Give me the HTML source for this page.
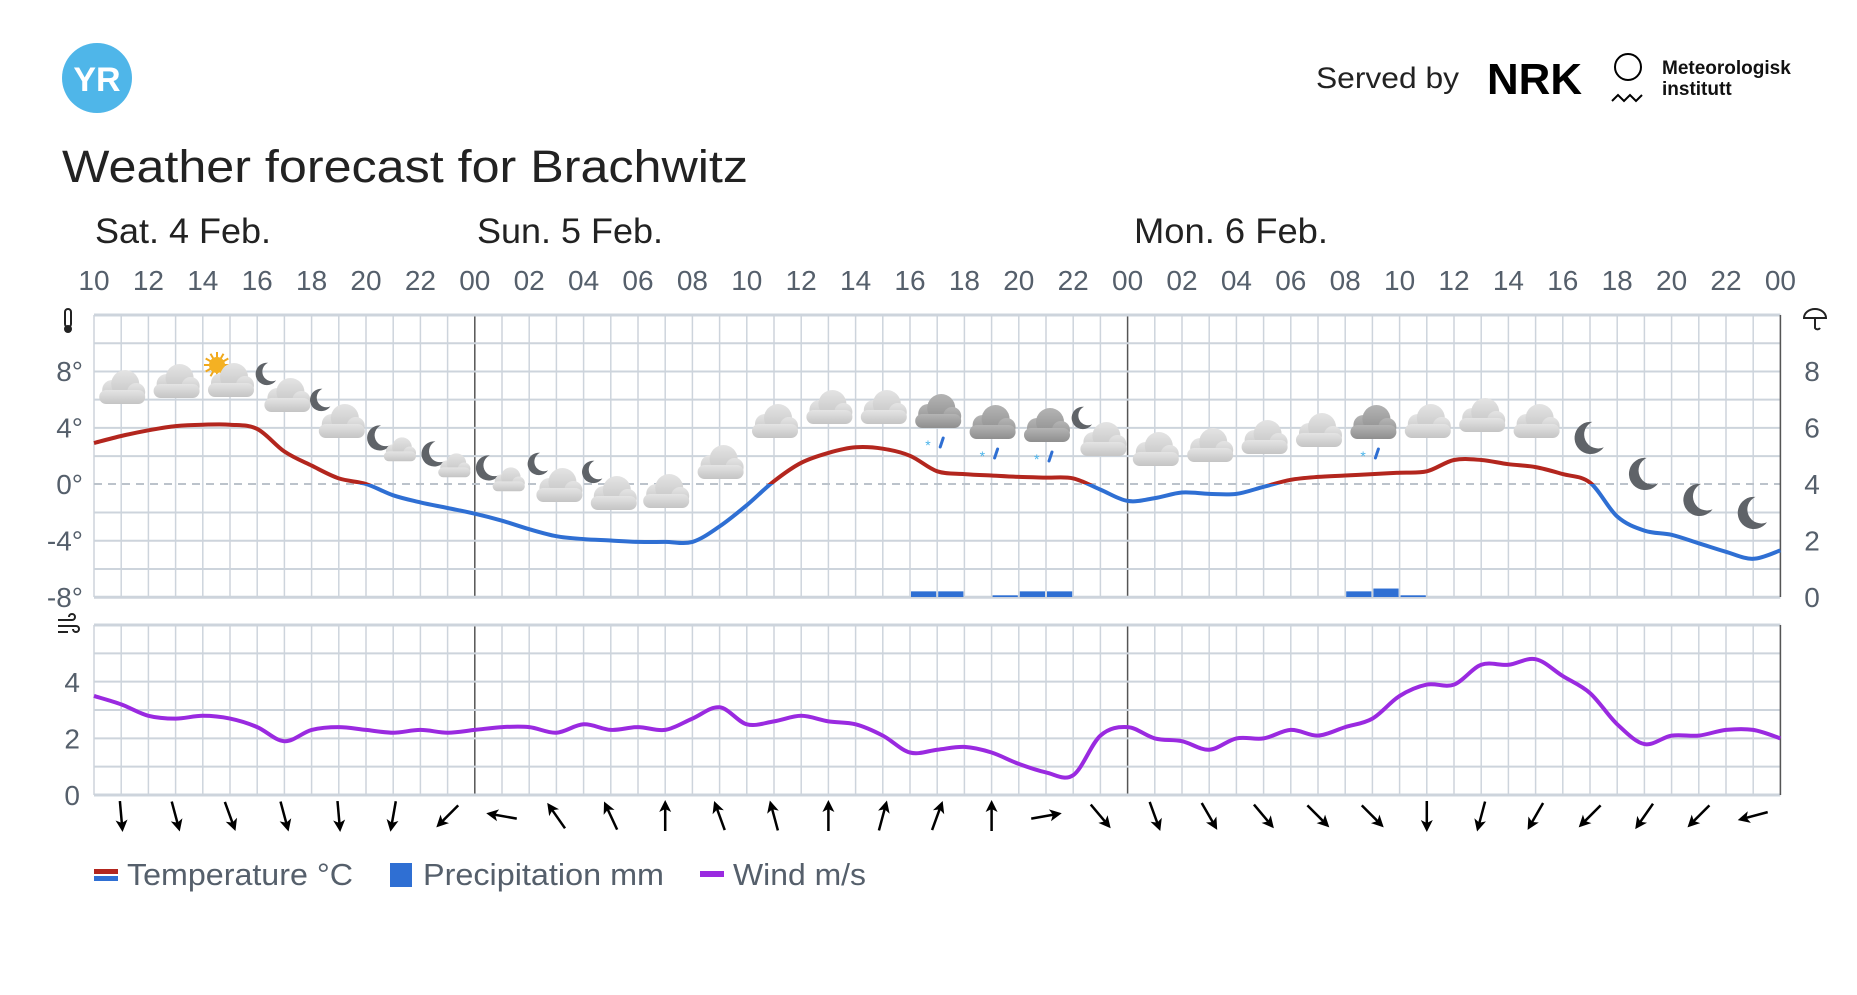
<!DOCTYPE html>
<html><head><meta charset="utf-8">
<style>
html,body{margin:0;padding:0;background:#fff;}
body{width:1857px;height:990px;overflow:hidden;font-family:"Liberation Sans",sans-serif;}
svg text{font-family:"Liberation Sans",sans-serif;}
</style></head>
<body>
<svg id="s" width="1857" height="990" viewBox="0 0 1857 990" xmlns="http://www.w3.org/2000/svg">
<defs>
<linearGradient id="cg" x1="0" y1="0" x2="0" y2="1"><stop offset="0" stop-color="#e4e4e4"/><stop offset="1" stop-color="#c4c4c4"/></linearGradient>
<linearGradient id="cd" x1="0" y1="0" x2="0" y2="1"><stop offset="0" stop-color="#b4b4b4"/><stop offset="1" stop-color="#8e8e8e"/></linearGradient>
<clipPath id="above"><rect x="0" y="0" width="1857" height="484"/></clipPath>
<clipPath id="below"><rect x="0" y="484" width="1857" height="300"/></clipPath>
</defs>
<circle cx="97" cy="78" r="35" fill="#4fb6e9"/>
<text x="97" y="91" text-anchor="middle" font-size="34" font-weight="bold" fill="#fff">YR</text>
<text x="1316" y="88" font-size="30" fill="#222" textLength="143" lengthAdjust="spacingAndGlyphs">Served by</text>
<text x="1487" y="94" font-size="44" font-weight="bold" fill="#000" textLength="95" lengthAdjust="spacingAndGlyphs">NRK</text>
<circle cx="1628" cy="67" r="13" fill="none" stroke="#000" stroke-width="2"/>
<polyline points="1612,101 1618,95 1624,101 1630,95 1636,101 1642,95" fill="none" stroke="#000" stroke-width="2"/>
<text x="1662" y="74" font-size="19" font-weight="bold" fill="#111">Meteorologisk</text>
<text x="1662" y="95" font-size="19" font-weight="bold" fill="#111">institutt</text>
<text x="62" y="182" font-size="45" fill="#222" textLength="686" lengthAdjust="spacingAndGlyphs">Weather forecast for Brachwitz</text>
<g font-size="35" fill="#222">
<text x="95" y="243" textLength="176" lengthAdjust="spacingAndGlyphs">Sat. 4 Feb.</text>
<text x="477" y="243" textLength="186" lengthAdjust="spacingAndGlyphs">Sun. 5 Feb.</text>
<text x="1134" y="243" textLength="194" lengthAdjust="spacingAndGlyphs">Mon. 6 Feb.</text>
</g>
<g id="dyn"></g>
</svg>
<script>
var X0=94,DX=27.2,NS='http://www.w3.org/2000/svg',g=document.getElementById('dyn'),h='';
function X(i){return X0+i*DX;}
function TY(t){return 484-t*14.12;}
function WY(w){return 795-w*28.3;}
for(var i=0;i<=62;i++){var x=X(i).toFixed(1);
 var dark=(i==14||i==38);
 h+='<line x1="'+x+'" y1="315" x2="'+x+'" y2="597" stroke="'+(dark?'#555':'#cdd4dc')+'" stroke-width="1.5"/>';
 h+='<line x1="'+x+'" y1="625" x2="'+x+'" y2="795" stroke="'+(dark?'#555':'#cdd4dc')+'" stroke-width="1.5"/>';}
for(var k=0;k<=10;k++){var y=315+k*28.22; if(k==6)continue;
 h+='<line x1="'+X0+'" y1="'+y+'" x2="'+X(62)+'" y2="'+y+'" stroke="#cdd4dc" stroke-width="'+((k==0||k==10)?3:2)+'"/>';}
h+='<line x1="'+X0+'" y1="484" x2="'+X(62)+'" y2="484" stroke="#bcc3cb" stroke-width="2" stroke-dasharray="8,6"/>';
for(var k=0;k<=6;k++){var y=625+k*28.33;
 h+='<line x1="'+X0+'" y1="'+y+'" x2="'+X(62)+'" y2="'+y+'" stroke="#cdd4dc" stroke-width="'+((k==0||k==6)?3:2)+'"/>';}
h+='<line x1="'+X(62)+'" y1="315" x2="'+X(62)+'" y2="597" stroke="#555" stroke-width="1.5"/>';
h+='<line x1="'+X(62)+'" y1="625" x2="'+X(62)+'" y2="795" stroke="#555" stroke-width="1.5"/>';
var hrs=['10','12','14','16','18','20','22','00','02','04','06','08','10','12','14','16','18','20','22','00','02','04','06','08','10','12','14','16','18','20','22','00'];
for(var k=0;k<32;k++)h+='<text x="'+X(2*k).toFixed(1)+'" y="290" text-anchor="middle" font-size="28" fill="#555f6b">'+hrs[k]+'</text>';
var tl=[['8°',8],['4°',4],['0°',0],['-4°',-4],['-8°',-8]];
tl.forEach(function(a){h+='<text x="83" y="'+(TY(a[1])+10)+'" text-anchor="end" font-size="28" fill="#555f6b">'+a[0]+'</text>';});
[8,6,4,2,0].forEach(function(v){h+='<text x="1812" y="'+(597-v*28.22+10)+'" text-anchor="middle" font-size="28" fill="#555f6b">'+v+'</text>';});
[4,2,0].forEach(function(v){h+='<text x="80" y="'+(WY(v)+10)+'" text-anchor="end" font-size="28" fill="#555f6b">'+v+'</text>';});
h+='<rect x="65" y="309" width="6" height="18" rx="3" fill="none" stroke="#222" stroke-width="2"/><circle cx="68" cy="329" r="4" fill="#222"/>';
h+='<path d="M1804 318 a11 9 0 0 1 22 0 z" fill="none" stroke="#222" stroke-width="2"/><path d="M1815 318 v10 a3 3 0 0 0 5 0" fill="none" stroke="#222" stroke-width="2"/>';
h+='<path d="M58 620 h14 a3 3 0 1 0 -3 -3 M58 626 h18 a3 3 0 1 1 -3 3 M58 632 h10" fill="none" stroke="#222" stroke-width="2"/>';
var pr=[[30,0.2],[31,0.2],[33,0.06],[34,0.2],[35,0.2],[46,0.2],[47,0.3],[48,0.06]];
pr.forEach(function(p){var hh=p[1]*28.22;h+='<rect x="'+(X(p[0])+1)+'" y="'+(597-hh)+'" width="'+(DX-2)+'" height="'+hh+'" fill="#2f6fd3"/>';});
function path(pts){var d='M'+pts[0][0]+' '+pts[0][1];
 for(var i=0;i<pts.length-1;i++){var p0=pts[i-1]||pts[i],p1=pts[i],p2=pts[i+1],p3=pts[i+2]||p2;
  d+=' C'+(p1[0]+(p2[0]-p0[0])/6).toFixed(1)+' '+(p1[1]+(p2[1]-p0[1])/6).toFixed(1)+' '+(p2[0]-(p3[0]-p1[0])/6).toFixed(1)+' '+(p2[1]-(p3[1]-p1[1])/6).toFixed(1)+' '+p2[0].toFixed(1)+' '+p2[1].toFixed(1);}
 return d;}
var T=[2.9,3.4,3.8,4.1,4.2,4.2,3.9,2.3,1.3,0.4,0,-0.8,-1.3,-1.7,-2.1,-2.6,-3.2,-3.7,-3.9,-4.0,-4.1,-4.1,-4.1,-3.0,-1.5,0.2,1.5,2.2,2.6,2.5,2.0,0.9,0.7,0.6,0.5,0.45,0.4,-0.4,-1.2,-1.0,-0.6,-0.7,-0.7,-0.2,0.3,0.5,0.6,0.7,0.8,0.9,1.7,1.7,1.4,1.2,0.7,0.1,-2.3,-3.3,-3.6,-4.2,-4.8,-5.3,-4.7];
var tp=path(T.map(function(t,i){return [X(i),TY(t)];}));
h+='<path d="'+tp+'" fill="none" stroke="#b3261e" stroke-width="4" clip-path="url(#above)"/>';
h+='<path d="'+tp+'" fill="none" stroke="#2f6fd3" stroke-width="4" clip-path="url(#below)"/>';
var W=[3.5,3.2,2.8,2.7,2.8,2.7,2.4,1.9,2.3,2.4,2.3,2.2,2.3,2.2,2.3,2.4,2.4,2.2,2.5,2.3,2.4,2.3,2.7,3.1,2.5,2.6,2.8,2.6,2.5,2.1,1.5,1.6,1.7,1.5,1.1,0.8,0.7,2.1,2.4,2.0,1.9,1.6,2.0,2.0,2.3,2.1,2.4,2.7,3.5,3.9,3.9,4.6,4.6,4.8,4.2,3.6,2.5,1.8,2.1,2.1,2.3,2.3,2.0];
h+='<path d="'+path(W.map(function(w,i){return [X(i),WY(w)];}))+'" fill="none" stroke="#9a2ae0" stroke-width="4"/>';
var A=[175,165,160,165,175,190,225,280,325,335,0,340,345,0,15,20,0,80,140,160,150,140,135,135,180,195,210,225,215,225,255];
A.forEach(function(a,k){var x=X(2*k+1);h+='<g transform="translate('+x.toFixed(1)+' 816) rotate('+a+')"><line x1="0" y1="15" x2="0" y2="-10" stroke="#000" stroke-width="2.5"/><path d="M0 -16 L-6 -4 L0 -7 L6 -4 Z" fill="#000"/></g>';});
function cloud(x,y,s,dark){var f=dark?'url(#cd)':'url(#cg)';
 return '<g transform="translate('+x+' '+y+') scale('+s+')"><circle cx="-9" cy="2" r="10" fill="'+f+'"/><circle cx="4" cy="-4" r="14" fill="'+f+'"/><circle cx="15" cy="4" r="9" fill="'+f+'"/><rect x="-22" y="2" width="46" height="14" rx="7" fill="'+f+'"/></g>';}
function moon(x,y,s){return '<path transform="translate('+x+' '+y+') scale('+s+')" d="M2 -14 A14 14 0 1 0 12 8 A12 12 0 0 1 2 -14 Z" fill="#5f6368"/>';}
function sleet(x,y){return '<text x="'+(x-12)+'" y="'+(y+30)+'" font-size="14" fill="#4bb4ea">*</text><line x1="'+(x+6)+'" y1="'+(y+18)+'" x2="'+(x+3)+'" y2="'+(y+27)+'" stroke="#2f6fd3" stroke-width="3" stroke-linecap="round"/>';}
function sun(x,y){var r='';for(var a=0;a<360;a+=30){r+='<line x1="'+x+'" y1="'+y+'" x2="'+(x+13*Math.cos(a*Math.PI/180)).toFixed(1)+'" y2="'+(y+13*Math.sin(a*Math.PI/180)).toFixed(1)+'" stroke="#f0a81c" stroke-width="2"/>';}return r+'<circle cx="'+x+'" cy="'+y+'" r="8" fill="#f4b123"/>';}
var I=[[1,388,'c'],[3,382,'c'],[5,381,'s'],[7,396,'m'],[9,422,'m'],[11,446,'ms'],[13,462,'ms'],[15,476,'ms'],[17,486,'m'],[19,494,'m'],[21,492,'c'],[23,463,'c'],[25,422,'c'],[27,408,'c'],[29,408,'c'],[31,420,'r'],[33,431,'r'],[35,434,'r'],[37,440,'m'],[39,450,'c'],[41,446,'c'],[43,438,'c'],[45,431,'c'],[47,431,'rd'],[49,422,'c'],[51,416,'c'],[53,422,'c'],[55,438,'M'],[57,474,'M'],[59,500,'M'],[61,513,'M']];
I.forEach(function(o){var x=X(o[0]),y=o[1],t=o[2];
 if(t=='c')h+=cloud(x,y,1);
 else if(t=='s'){h+=sun(x-13,y-16)+cloud(x,y,1);}
 else if(t=='m'){h+=moon(x-18,y-22,0.8)+cloud(x+2,y,1);}
 else if(t=='ms'){h+=moon(x-14,y-8,0.9)+cloud(x+6,y+4,0.7);}
 else if(t=='r'||t=='rd'){h+=cloud(x,y-8,1,true)+sleet(x,y);}
 else if(t=='M'){h+=moon(x,y,1.15);}
});
h+='<rect x="94" y="869" width="24" height="5" fill="#b3261e"/><rect x="94" y="876" width="24" height="5" fill="#2f6fd3"/>';
h+='<text x="127" y="885" font-size="31" fill="#555f6b" textLength="226" lengthAdjust="spacingAndGlyphs">Temperature °C</text>';
h+='<rect x="390" y="863" width="22" height="24" fill="#2f6fd3"/>';
h+='<text x="423" y="885" font-size="31" fill="#555f6b" textLength="241" lengthAdjust="spacingAndGlyphs">Precipitation mm</text>';
h+='<rect x="700" y="871" width="24" height="6" fill="#9a2ae0"/>';
h+='<text x="733" y="885" font-size="31" fill="#555f6b" textLength="133" lengthAdjust="spacingAndGlyphs">Wind m/s</text>';
g.innerHTML=h;
</script>
</body></html>
